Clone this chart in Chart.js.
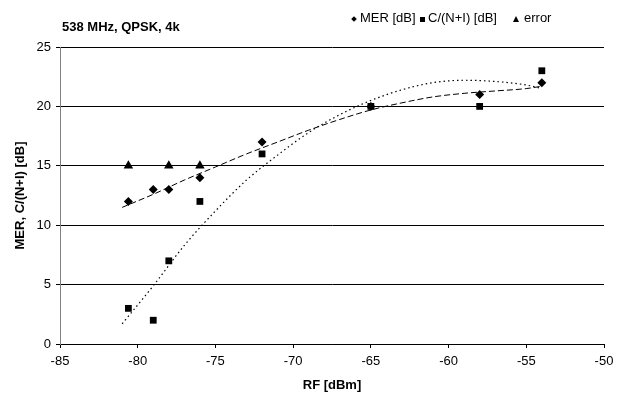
<!DOCTYPE html>
<html>
<head>
<meta charset="utf-8">
<script src="https://cdn.jsdelivr.net/npm/chart.js@4/dist/chart.umd.min.js"></script>
<style>
  html, body { margin: 0; padding: 0; background: #fff; }
  #wrap { position: relative; width: 620px; height: 396px; }
  #title { position: absolute; left: 62px; top: 20px; font: bold 13px "Liberation Sans", Arial, sans-serif; line-height: 13px; color: #000; white-space: nowrap; }
  .lg { position: absolute; top: 11px; font: 13px "Liberation Sans", Arial, sans-serif; line-height: 13px; color: #000; white-space: nowrap; }
  .mk { position: absolute; background: #000; }
  .sq { width: 5px; height: 5px; left: 420px; top: 16.5px; }
  .di { width: 4px; height: 4px; transform: rotate(45deg); left: 352px; top: 17px; }
  .tr { width: 0; height: 0; background: none; border-left: 3px solid transparent; border-right: 3px solid transparent; border-bottom: 6px solid #000; left: 513px; top: 15.5px; }
</style>
</head>
<body>
<div id="wrap">
  <canvas id="c" width="620" height="396"></canvas>
  <div id="title">538 MHz, QPSK, 4k</div>
  <span class="mk di"></span><span class="lg" style="left:360px">MER [dB]</span>
  <span class="mk sq"></span><span class="lg" style="left:428px">C/(N+I) [dB]</span>
  <span class="mk tr"></span><span class="lg" style="left:524px">error</span>
</div>
<script>
// Measured points
const rfPoints = [-80.6, -79, -78, -76, -72, -65, -58, -54];
const merValues = [12, 13, 13, 14, 17, 20, 21, 22];
const cniValues = [3, 2, 7, 12, 16, 20, 20, 23];
const rfError = [-80.6, -78, -76];
const errorValues = [15, 15, 15];

// Trend lines
const trendRf = [-81, -79, -77, -75, -73, -71, -69, -67, -65, -63, -61, -59, -57, -55, -54];
const merTrend = [11.5, 12.6, 13.8, 14.9, 16.0, 17.0, 18.0, 18.9, 19.7, 20.3, 20.8, 21.1, 21.3, 21.5, 21.7];
const cniTrend = [1.7, 4.9, 8.3, 11.2, 13.8, 15.9, 17.8, 19.3, 20.5, 21.4, 22.0, 22.2, 22.1, 21.8, 21.5];

// Axis tick values
const xTicks = [-85, -80, -75, -70, -65, -60, -55, -50];
const yTicks = [0, 5, 10, 15, 20, 25];

const pts = (xs, ys) => xs.map((x, i) => ({ x: x, y: ys[i] }));
const FONT = "'Liberation Sans', Arial, sans-serif";

new Chart(document.getElementById('c'), {
  type: 'scatter',
  data: {
    datasets: [
      { label: 'MER trend', data: pts(trendRf, merTrend), showLine: true, borderColor: '#000', borderWidth: 1, borderDash: [6, 3], pointRadius: 0, cubicInterpolationMode: 'monotone', order: 5 },
      { label: 'C/(N+I) trend', data: pts(trendRf, cniTrend), showLine: true, borderColor: '#000', borderWidth: 1.2, borderDash: [1.5, 3], pointRadius: 0, cubicInterpolationMode: 'monotone', order: 6 },
      { label: 'MER [dB]', data: pts(rfPoints, merValues), pointStyle: 'rectRot', pointRadius: 4.5, backgroundColor: '#000', borderColor: '#000', borderWidth: 0, order: 1 },
      { label: 'C/(N+I) [dB]', data: pts(rfPoints, cniValues), pointStyle: 'rect', pointRadius: 4.8, backgroundColor: '#000', borderColor: '#000', borderWidth: 0, order: 2 },
      { label: 'error', data: pts(rfError, errorValues), pointStyle: 'triangle', pointRadius: 5.5, backgroundColor: '#000', borderColor: '#000', borderWidth: 0, order: 3 }
    ]
  },
  options: {
    responsive: false,
    animation: false,
    layout: { padding: { top: 47, right: 16, left: 0, bottom: 0 } },
    plugins: { legend: { display: false }, title: { display: false }, tooltip: { enabled: false } },
    scales: {
      x: {
        type: 'linear', min: -85, max: -50,
        afterFit: s => { s.height = 52; },
        afterBuildTicks: s => { s.ticks = xTicks.map(v => ({ value: v })); },
        grid: { drawOnChartArea: false, drawTicks: true, tickLength: 4, color: '#000' },
        border: { display: true, color: '#000', width: 1 },
        ticks: { color: '#000', font: { family: FONT, size: 13 }, padding: 6, maxRotation: 0 },
        title: { display: true, text: 'RF [dBm]', color: '#000', font: { family: FONT, size: 13, weight: 'bold' }, padding: { top: 0, bottom: 3 } }
      },
      y: {
        type: 'linear', min: 0, max: 25,
        afterFit: s => { s.width = 60; },
        afterBuildTicks: s => { s.ticks = yTicks.map(v => ({ value: v })); },
        grid: { drawOnChartArea: true, drawTicks: true, tickLength: 4, color: '#000' },
        border: { display: true, color: '#808080', width: 1 },
        ticks: { color: '#000', font: { family: FONT, size: 13 }, padding: 5 },
        title: { display: true, text: 'MER, C/(N+I) [dB]', color: '#000', font: { family: FONT, size: 13, weight: 'bold' }, padding: { top: 13, bottom: 0 } }
      }
    }
  }
});
</script>
</body>
</html>
